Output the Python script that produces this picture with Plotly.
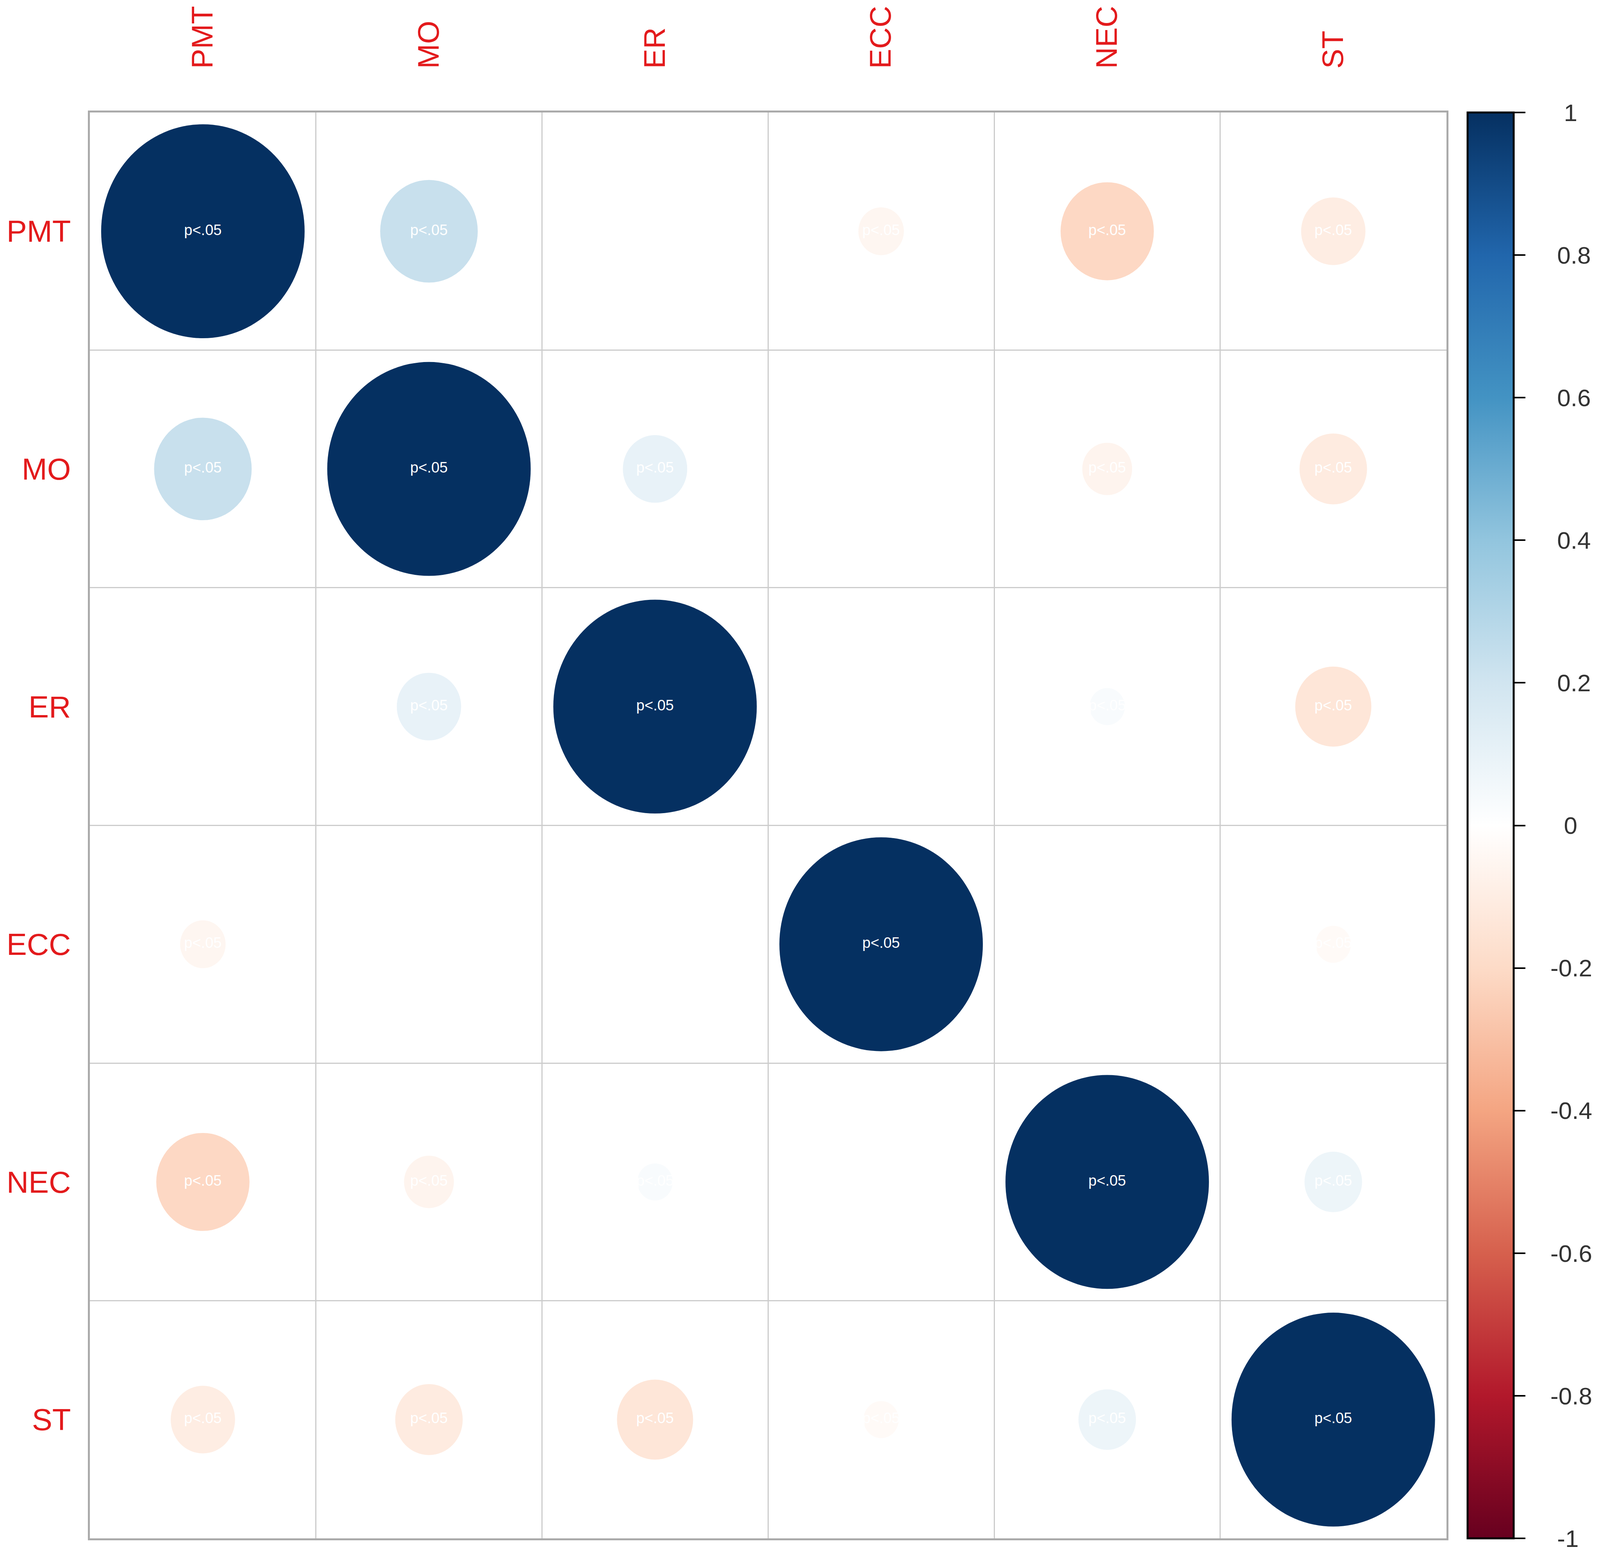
import plotly.graph_objects as go
from plotly.colors import sample_colorscale

# variables and correlation matrix
variables = ["PMT", "MO", "ER", "ECC", "NEC", "ST"]
r_pmt = [1.00, 0.23, 0.00, -0.05, -0.21, -0.10]
r_mo = [0.23, 1.00, 0.10, 0.00, -0.06, -0.11]
r_er = [0.00, 0.10, 1.00, 0.00, 0.03, -0.14]
r_ecc = [-0.05, 0.00, 0.00, 1.00, 0.00, -0.03]
r_nec = [-0.21, -0.06, 0.03, 0.00, 1.00, 0.08]
r_st = [-0.10, -0.11, -0.14, -0.03, 0.08, 1.00]
corr_rows = [r_pmt, r_mo, r_er, r_ecc, r_nec, r_st]
cell_text = "p<.05"

cb_tickvals = [-1, -0.8, -0.6, -0.4, -0.2, 0, 0.2, 0.4, 0.6, 0.8, 1]
cb_ticklabels = ["-1", "-0.8", "-0.6", "-0.4", "-0.2", "0", "0.2", "0.4", "0.6", "0.8", "1"]

# corrplot COL2('RdBu')
rdbu = ["#67001F", "#B2182B", "#D6604D", "#F4A582", "#FDDBC7", "#FFFFFF",
        "#D1E5F0", "#92C5DE", "#4393C3", "#2166AC", "#053061"]
colorscale = [[i / (len(rdbu) - 1), c] for i, c in enumerate(rdbu)]

W, H = 4319, 3997
x0, x1 = 235, 3911
y0, y1 = 281, 3947
n = len(variables)
font = "Liberation Sans, Arial"

xs, ys, vals = [], [], []
shapes = []
for i, row in enumerate(corr_rows):
    for j, v in enumerate(row):
        xs.append(j)
        ys.append(i)
        vals.append(v)
        if v == 0:
            continue
        # corrplot "circle": area ~ |r|
        rad = 0.45 * abs(v) ** 0.5
        col = sample_colorscale(colorscale, [(v + 1) / 2])[0]
        shapes.append(dict(
            type="circle", xref="x", yref="y", layer="between",
            x0=j - rad, x1=j + rad, y0=i - rad, y1=i + rad,
            fillcolor=col, line=dict(width=0), opacity=1,
        ))


def pad_label(s):
    # rough centering of colorbar labels (nbsp ~ 0.278em, digit ~ 0.556em)
    w = sum(0.333 if ch == "-" else 0.278 if ch == "." else 0.556 for ch in s)
    n_sp = round(3 + (1.72 - w) / 2 / 0.278)
    return "\u00a0" * n_sp + s


fig = go.Figure()
fig.add_trace(go.Scatter(
    x=xs, y=ys, mode="markers+text",
    text=[cell_text] * len(xs),
    textposition="middle center",
    textfont=dict(size=38, color="white", family=font),
    marker=dict(
        size=0, opacity=0, color=vals,
        colorscale=colorscale, cmin=-1, cmax=1,
        showscale=True,
        colorbar=dict(
            x=3969 / W, xanchor="left", xpad=0,
            y=1 - (y0 + y1) / 2 / H, yanchor="middle", ypad=0,
            len=(y1 - y0) / H, lenmode="fraction",
            thickness=118, thicknessmode="pixels",
            outlinecolor="black", outlinewidth=5,
            ticks="outside", ticklen=28, tickwidth=4, tickcolor="black",
            tickvals=cb_tickvals,
            ticktext=[pad_label(s) for s in cb_ticklabels],
            tickfont=dict(size=62, color="#333333", family=font),
        ),
    ),
    hoverinfo="skip",
    showlegend=False,
))

axis_common = dict(
    showgrid=False, zeroline=False,
    showline=True, mirror=True, linecolor="#AAAAAA", linewidth=5,
    minor=dict(tick0=0.5, dtick=1, showgrid=True, gridcolor="#CCCCCC", gridwidth=3),
    tickmode="array", tickvals=list(range(n)), ticktext=variables,
    ticks="",
)

fig.update_layout(
    autosize=True,
    margin=dict(l=0, r=0, t=0, b=0),
    paper_bgcolor="white", plot_bgcolor="white",
    shapes=shapes,
    xaxis=dict(
        axis_common, range=[-0.5, n - 0.5], side="top", tickangle=-90,
        domain=[x0 / W, x1 / W], ticklabelstandoff=92,
        tickfont=dict(size=76, color="#E31A1C", family=font),
    ),
    yaxis=dict(
        axis_common, range=[n - 0.5, -0.5],
        domain=[1 - y1 / H, 1 - y0 / H], ticklabelstandoff=28,
        tickfont=dict(size=78, color="#E31A1C", family=font),
    ),
)

fig.write_html("out.html")
